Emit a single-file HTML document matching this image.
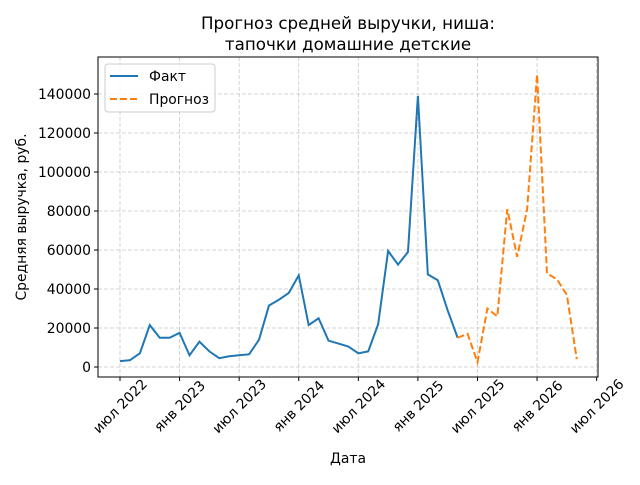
<!DOCTYPE html>
<html><head><meta charset="utf-8"><style>
body{margin:0;background:#fff}
svg{font-family:"DejaVu Sans","Liberation Sans",sans-serif}
</style></head><body>
<svg id="chart" width="640" height="480" viewBox="0 0 640 480">
<text x="348" y="29" font-size="16.7" text-anchor="middle">Прогноз средней выручки, ниша:</text>
<text x="348" y="50" font-size="16.7" text-anchor="middle">тапочки домашние детские</text>
<g id="grid"></g><g id="axes"></g><g id="series"></g>
<rect x="98" y="57" width="500" height="320" fill="none" stroke="#000" stroke-width="1"/>
<text x="348" y="463" font-size="13.9" text-anchor="middle">Дата</text>
<text transform="translate(26,217) rotate(-90)" font-size="13.9" text-anchor="middle">Средняя выручка, руб.</text>
<g>
<rect x="105" y="64" width="110" height="48" rx="3" fill="#fff" fill-opacity="0.8" stroke="#ccc"/>
<line x1="110" y1="76" x2="138" y2="76" stroke="#1f77b4" stroke-width="2"/>
<text x="149" y="81" font-size="13.9">Факт</text>
<line x1="110" y1="99" x2="138" y2="99" stroke="#ff7f0e" stroke-width="2" stroke-dasharray="7,3"/>
<text x="149" y="104" font-size="13.9">Прогноз</text>
</g>
</svg>
<script>
const factValues=[3000,3500,7000,21500,15000,15000,17500,6000,13000,8000,4500,5500,6000,6500,14000,31500,34500,38000,47000,21500,25000,13500,12000,10500,7000,8000,22000,59500,52500,59000,139000,47500,44500,29000,15000];
const forecastValues=[15000,17000,2500,30000,26000,81000,56500,81000,150000,48000,45000,37000,4000];
const forecastStart=34;
const yTicks=[0,20000,40000,60000,80000,100000,120000,140000];
const xTickLabels=["июл 2022","янв 2023","июл 2023","янв 2024","июл 2024","янв 2025","июл 2025","янв 2026","июл 2026"];
const xTickMonths=[0,6,12,18,24,30,36,42,48];
const NS="http://www.w3.org/2000/svg";
const X=m=>120+m*9.93;
const Y=v=>367-v*273/140000;
function mk(tag,attrs,parent){const e=document.createElementNS(NS,tag);for(const k in attrs)e.setAttribute(k,attrs[k]);parent.appendChild(e);return e;}
const grid=document.getElementById('grid'),axes=document.getElementById('axes'),series=document.getElementById('series');
yTicks.forEach(v=>{const y=Y(v);
 const g=mk('line',{x1:98,x2:598,y1:y,y2:y,stroke:'#c8c8c8','stroke-dasharray':'4,2','stroke-width':0.8},grid);
 
 
 const t=mk('line',{x1:94,x2:98,y1:y,y2:y,stroke:'#000'},axes);
 
 
 const l=mk('text',{x:91,y:y+5,'font-size':13.9,'text-anchor':'end'},axes);l.textContent=v;
 
 
});
xTickMonths.forEach((m,i)=>{const x=X(m);
 const g=mk('line',{x1:x,x2:x,y1:57,y2:377,stroke:'#c8c8c8','stroke-dasharray':'4,2','stroke-width':0.8},grid);
 
 
 const t=mk('line',{x1:x,x2:x,y1:377,y2:381,stroke:'#000'},axes);
 
 
 const l=mk('text',{transform:`translate(${x},${406}) rotate(-45)`,'font-size':13.9,'text-anchor':'middle',dy:'0.35em'},axes);l.textContent=xTickLabels[i];
 
 
});
const fp=mk('polyline',{points:factValues.map((v,i)=>X(i)+','+Y(v)).join(' '),fill:'none',stroke:'#1f77b4','stroke-width':2},series);


const pp=mk('polyline',{points:forecastValues.map((v,i)=>X(forecastStart+i)+','+Y(v)).join(' '),fill:'none',stroke:'#ff7f0e','stroke-width':2,'stroke-dasharray':'7,3'},series);


</script>
</body></html>
